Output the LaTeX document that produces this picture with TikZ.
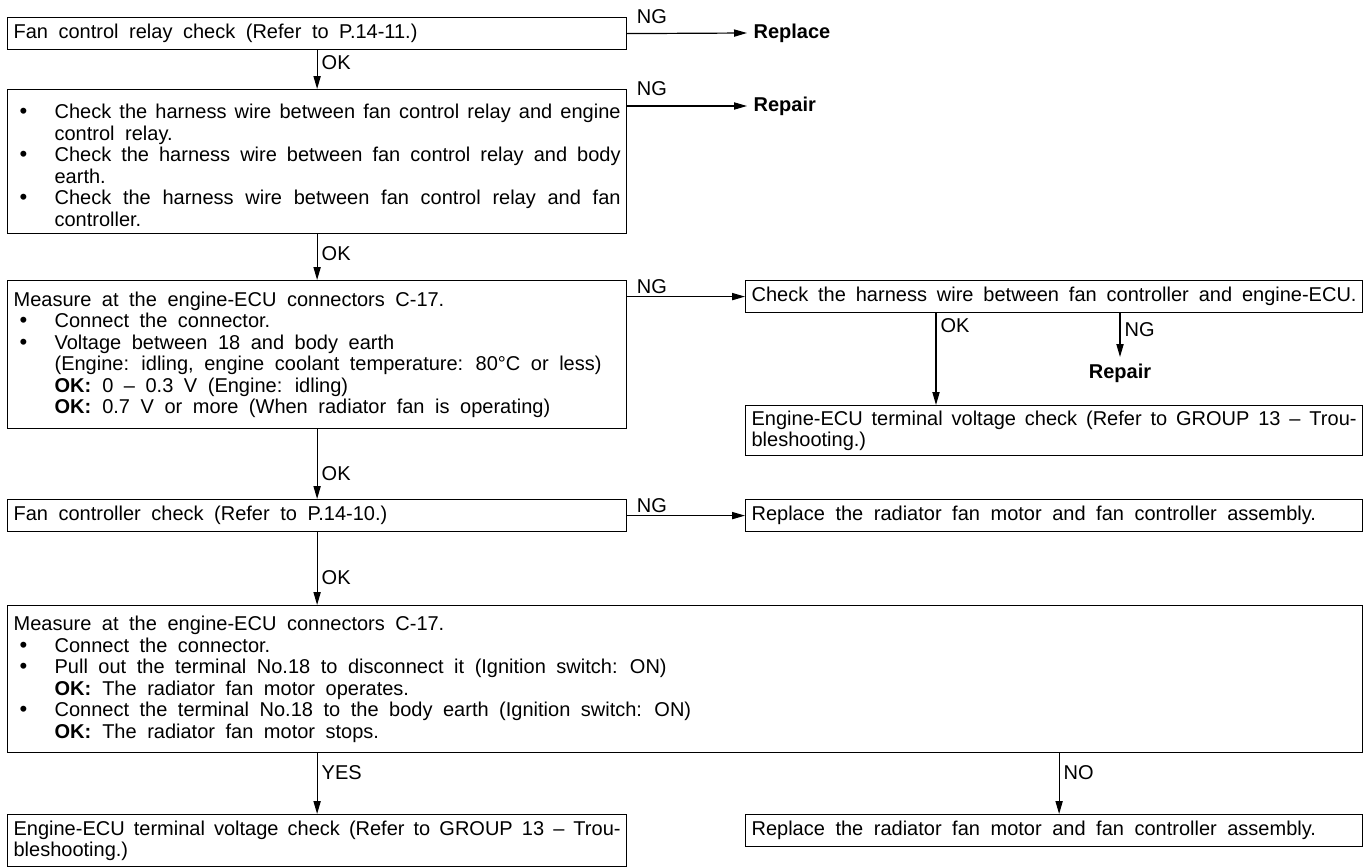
\documentclass[tikz,border=0pt]{standalone}
\usepackage{fontspec}
\setmainfont[WordSpace=1.9]{Liberation Sans}
\usetikzlibrary{arrows.meta}
\setlength{\parindent}{0pt}
\tolerance=5000
\newcommand{\bul}{\par\noindent\hangindent=20.5pt\hangafter=1\makebox[20.5pt][l]{\hspace{3pt}\smash{\fontsize{11}{10}\selectfont\textbullet}}}
\newcommand{\okmark}{\textbf{OK:}\hspace{0.55em}}

\begin{document}
\begin{tikzpicture}[x=0.5pt,y=-0.5pt,
  every node/.style={font=\fontsize{10}{10.75}\selectfont},
  lbox/.style={draw,anchor=north west,text width=303.5pt,inner xsep=3pt,inner ysep=0pt,align=justify},
  rbox/.style={lbox,text width=302.5pt},
  wbox/.style={lbox,text width=671.5pt},
  res/.style={inner xsep=3pt,font=\fontsize{10}{10.75}\selectfont\bfseries},
  lbl/.style={inner sep=2pt},
  arr/.style={-{Triangle[length=6.5pt,width=3.6pt]}},
  line width=0.6pt]
  \useasboundingbox (0,0) rectangle (1369,867);

  % left column
  \node[lbox,minimum height=16pt] (relay) at (7,17) {Fan control relay check (Refer to P.14-11.)};
  \node[lbox,minimum height=72pt] (harness) at (7,89) {%
    \bul Check the harness wire between fan control relay and engine\linebreak control relay.
    \bul Check the harness wire between fan control relay and body\linebreak earth.
    \bul Check the harness wire between fan control relay and fan\linebreak controller.\par};
  \node[lbox,minimum height=74pt] (meas1) at (7,280) {%
    Measure at the engine-ECU connectors C-17.
    \bul Connect the connector.
    \bul Voltage between 18 and body earth\newline
    (Engine: idling, engine coolant temperature: 80°C or less)\newline
    \okmark 0 – 0.3 V (Engine: idling)\newline
    \okmark 0.7 V or more (When radiator fan is operating)\par};
  \node[lbox,minimum height=16pt] (fanchk) at (7,499) {Fan controller check (Refer to P.14-10.)};
  \node[wbox,minimum height=73.5pt] (meas2) at (7,605) {%
    Measure at the engine-ECU connectors C-17.
    \bul Connect the connector.
    \bul Pull out the terminal No.18 to disconnect it (Ignition switch: ON)\newline
    \okmark The radiator fan motor operates.
    \bul Connect the terminal No.18 to the body earth (Ignition switch: ON)\newline
    \okmark The radiator fan motor stops.\par};
  \node[lbox,minimum height=26pt] (ecu2) at (7,814) {Engine-ECU terminal voltage check (Refer to GROUP 13 – Trou-\linebreak bleshooting.)};

  % right column
  \node[res,anchor=west] (replace) at (747,33) {Replace};
  \node[res,anchor=west] (repair1) at (747,106) {Repair};
  \node[rbox,minimum height=16pt] (chkw) at (745,280) {Check the harness wire between fan controller and engine-ECU.};
  \node[res,anchor=north] (repair2) at (1120,357) {Repair};
  \node[rbox,minimum height=25pt] (ecu1) at (745,405) {Engine-ECU terminal voltage check (Refer to GROUP 13 – Trou-\linebreak bleshooting.)};
  \node[rbox,minimum height=16pt] (rep1) at (745,499) {Replace the radiator fan motor and fan controller assembly.};
  \node[rbox,minimum height=16pt] (rep2) at (745,814) {Replace the radiator fan motor and fan controller assembly.};

  % NG labels
  \node[lbl,anchor=west] (ng1) at ([xshift=2.5pt]relay.north east) {NG};
  \node[lbl,anchor=west] (ng2) at ([xshift=2.5pt]harness.north east) {NG};
  \node[lbl,anchor=west] (ng3) at ([xshift=2.5pt,yshift=-3.5pt]meas1.north east) {NG};
  \node[lbl,anchor=west] (ng4) at ([xshift=2.5pt,yshift=-3.5pt]fanchk.north east) {NG};

  \draw[arr] (relay.east) -- (replace.west);
  \draw[arr] (harness.east |- repair1) -- (repair1.west);
  \draw[arr] (meas1.east |- chkw) -- (chkw.west);
  \draw[arr] (fanchk.east) -- (rep1.west);

  \draw[arr] (relay) -- (harness) node[lbl,pos=0.32,right] {OK};
  \draw[arr] (harness) -- (meas1) node[lbl,pos=0.43,right] {OK};
  \draw[arr] (meas1) -- (fanchk) node[lbl,pos=0.63,right] {OK};
  \draw[arr] (fanchk.south) -- (fanchk.south |- meas2.north) node[lbl,pos=0.62,right] {OK};
  \draw[arr] ([xshift=95.5pt]chkw.south west) -- ([xshift=95.5pt]ecu1.north west) node[lbl,pos=0.14,right] {OK};
  \draw[arr] (chkw.south -| repair2) -- (repair2.north) node[lbl,pos=0.37,right] {NG};
  \draw[arr] (meas2.south -| ecu2.north) -- (ecu2.north) node[lbl,pos=0.32,right] {YES};
  \draw[arr] ([xshift=2.5pt]meas2.south -| rep2.north) -- ([xshift=2.5pt]rep2.north) node[lbl,pos=0.32,right] {NO};
\end{tikzpicture}
\end{document}
